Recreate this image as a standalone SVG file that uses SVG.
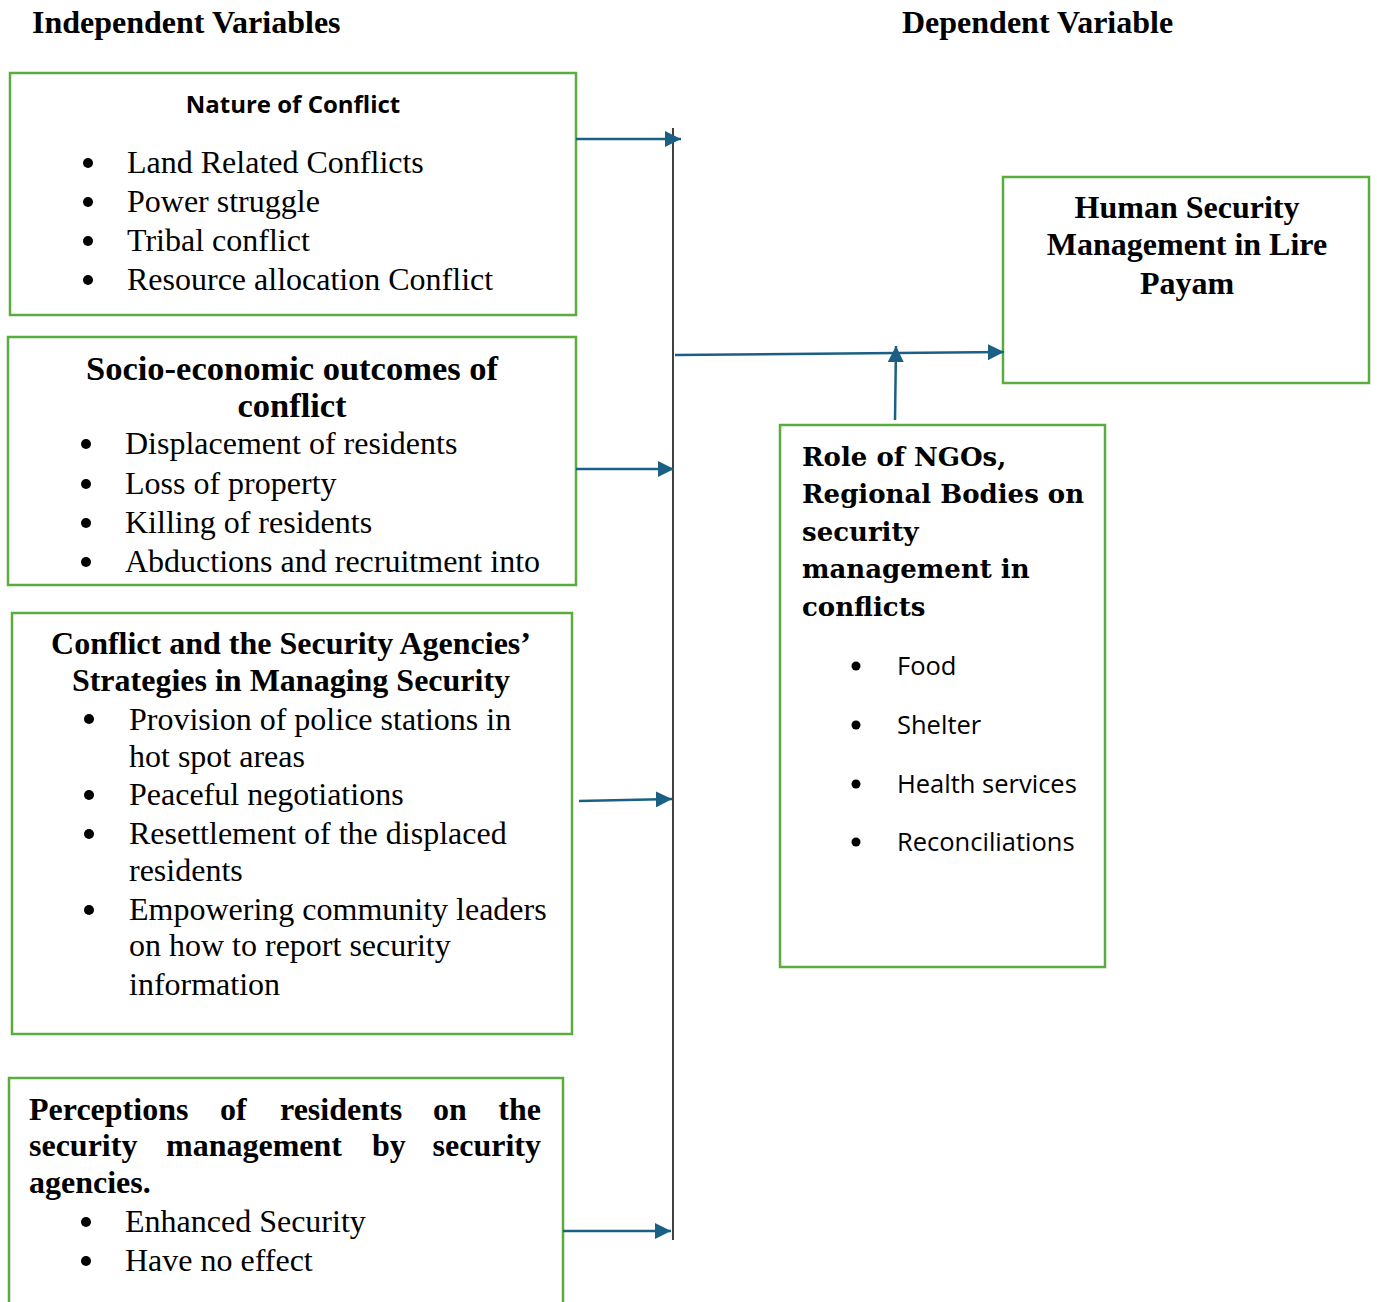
<svg xmlns="http://www.w3.org/2000/svg" width="1377" height="1302" viewBox="0 0 1377 1302">
<style>
.box{fill:#fff;stroke:#5aac3c;stroke-width:2.5}
.hd{font-family:"Liberation Serif",serif;font-weight:bold;font-size:32px;fill:#000}
.tb{font-family:"Liberation Serif",serif;font-weight:bold;font-size:32px;fill:#000}
.ti{font-family:"Liberation Serif",serif;font-size:32px;fill:#000}
.sb{font-family:"Open Sans","Liberation Sans",sans-serif;font-weight:bold;font-size:24px;fill:#000}
.si{font-family:"Open Sans","Liberation Sans",sans-serif;font-size:25.5px;fill:#000}
.cb{font-family:"DejaVu Serif","Liberation Serif",serif;font-weight:bold;font-size:26px;fill:#000}
.c{text-anchor:middle}
.con{stroke:#1a5f84;stroke-width:2.5;fill:none}
</style>
<defs>
<marker id="ah" viewBox="0 0 10 10" refX="10" refY="5" markerWidth="6.5" markerHeight="6.5" markerUnits="strokeWidth" orient="auto">
<path d="M0,0 L10,5 L0,10 z" fill="#1a5f84"/>
</marker>
</defs>
<rect width="1377" height="1302" fill="#fff"/>
<text class="hd" x="32" y="33">Independent Variables</text>
<text class="hd" x="902" y="33">Dependent Variable</text>

<g id="n1">
<rect class="box" x="10" y="73" width="566" height="242"/>
<text class="sb c" x="293" y="113">Nature of Conflict</text>
<g fill="#000"><circle cx="88" cy="163" r="5"/><circle cx="88" cy="202" r="5"/><circle cx="88" cy="241" r="5"/><circle cx="88" cy="280" r="5"/></g>
<text class="ti" x="127" y="173">Land Related Conflicts</text>
<text class="ti" x="127" y="212">Power struggle</text>
<text class="ti" x="127" y="251">Tribal conflict</text>
<text class="ti" x="127" y="290">Resource allocation Conflict</text>
</g>

<g id="n2">
<rect class="box" x="8" y="337" width="568" height="248"/>
<text class="tb c" x="292" y="380" style="font-size:34.5px">Socio-economic outcomes of</text>
<text class="tb c" x="292" y="417" style="font-size:34.5px">conflict</text>
<g fill="#000"><circle cx="86" cy="444" r="5"/><circle cx="86" cy="484" r="5"/><circle cx="86" cy="523" r="5"/><circle cx="86" cy="562" r="5"/></g>
<text class="ti" x="125" y="454">Displacement of residents</text>
<text class="ti" x="125" y="494">Loss of property</text>
<text class="ti" x="125" y="533">Killing of residents</text>
<text class="ti" x="125" y="572">Abductions and recruitment into</text>
</g>

<g id="n3">
<rect class="box" x="12" y="613" width="560" height="421"/>
<text class="tb c" x="291" y="654">Conflict and the Security Agencies’</text>
<text class="tb c" x="291" y="691">Strategies in Managing Security</text>
<g fill="#000"><circle cx="89" cy="719" r="5"/><circle cx="89" cy="795" r="5"/><circle cx="89" cy="834" r="5"/><circle cx="89" cy="910" r="5"/></g>
<text class="ti" x="129" y="730">Provision of police stations in</text>
<text class="ti" x="129" y="767">hot spot areas</text>
<text class="ti" x="129" y="805">Peaceful negotiations</text>
<text class="ti" x="129" y="844">Resettlement of the displaced</text>
<text class="ti" x="129" y="881">residents</text>
<text class="ti" x="129" y="920">Empowering community leaders</text>
<text class="ti" x="129" y="956">on how to report security</text>
<text class="ti" x="129" y="995">information</text>
</g>

<g id="n4">
<path class="box" d="M9,1302 V1078 H563 V1302"/>
<text class="tb" x="29" y="1120">Perceptions</text>
<text class="tb" x="220" y="1120">of</text>
<text class="tb" x="280" y="1120">residents</text>
<text class="tb" x="433" y="1120">on</text>
<text class="tb" x="541" y="1120" text-anchor="end">the</text>
<text class="tb" x="29" y="1156">security</text>
<text class="tb" x="166" y="1156">management</text>
<text class="tb" x="372" y="1156">by</text>
<text class="tb" x="541" y="1156" text-anchor="end">security</text>
<text class="tb" x="29" y="1193">agencies.</text>
<g fill="#000"><circle cx="86" cy="1222" r="5"/><circle cx="86" cy="1261" r="5"/></g>
<text class="ti" x="125" y="1232">Enhanced Security</text>
<text class="ti" x="125" y="1271">Have no effect</text>
</g>

<g id="n5">
<rect class="box" x="1003" y="177" width="366" height="206"/>
<text class="tb c" x="1187" y="218">Human Security</text>
<text class="tb c" x="1187" y="255">Management in Lire</text>
<text class="tb c" x="1187" y="294">Payam</text>
</g>

<g id="n6">
<rect class="box" x="780" y="425" width="325" height="542"/>
<text class="cb" x="802" y="466">Role of NGOs,</text>
<text class="cb" x="802" y="503">Regional Bodies on</text>
<text class="cb" x="802" y="541">security</text>
<text class="cb" x="802" y="578">management in</text>
<text class="cb" x="802" y="616">conflicts</text>
<g fill="#000"><circle cx="856" cy="666" r="4.5"/><circle cx="856" cy="725" r="4.5"/><circle cx="856" cy="784" r="4.5"/><circle cx="856" cy="842" r="4.5"/></g>
<text class="si" x="897" y="675">Food</text>
<text class="si" x="897" y="734">Shelter</text>
<text class="si" x="897" y="793">Health services</text>
<text class="si" x="897" y="851">Reconciliations</text>
</g>

<g id="connectors">
<line x1="673" y1="128" x2="673" y2="1240" stroke="#000" stroke-width="1.5"/>
<line class="con" x1="576" y1="139" x2="681" y2="139" marker-end="url(#ah)"/>
<line class="con" x1="576" y1="469" x2="674" y2="469" marker-end="url(#ah)"/>
<line class="con" x1="579" y1="801" x2="672" y2="799" marker-end="url(#ah)"/>
<line class="con" x1="563" y1="1231" x2="671" y2="1231" marker-end="url(#ah)"/>
<line class="con" x1="675" y1="355" x2="1004" y2="352" marker-end="url(#ah)"/>
<line class="con" x1="895" y1="420" x2="896" y2="346" marker-end="url(#ah)"/>
</g>
</svg>
